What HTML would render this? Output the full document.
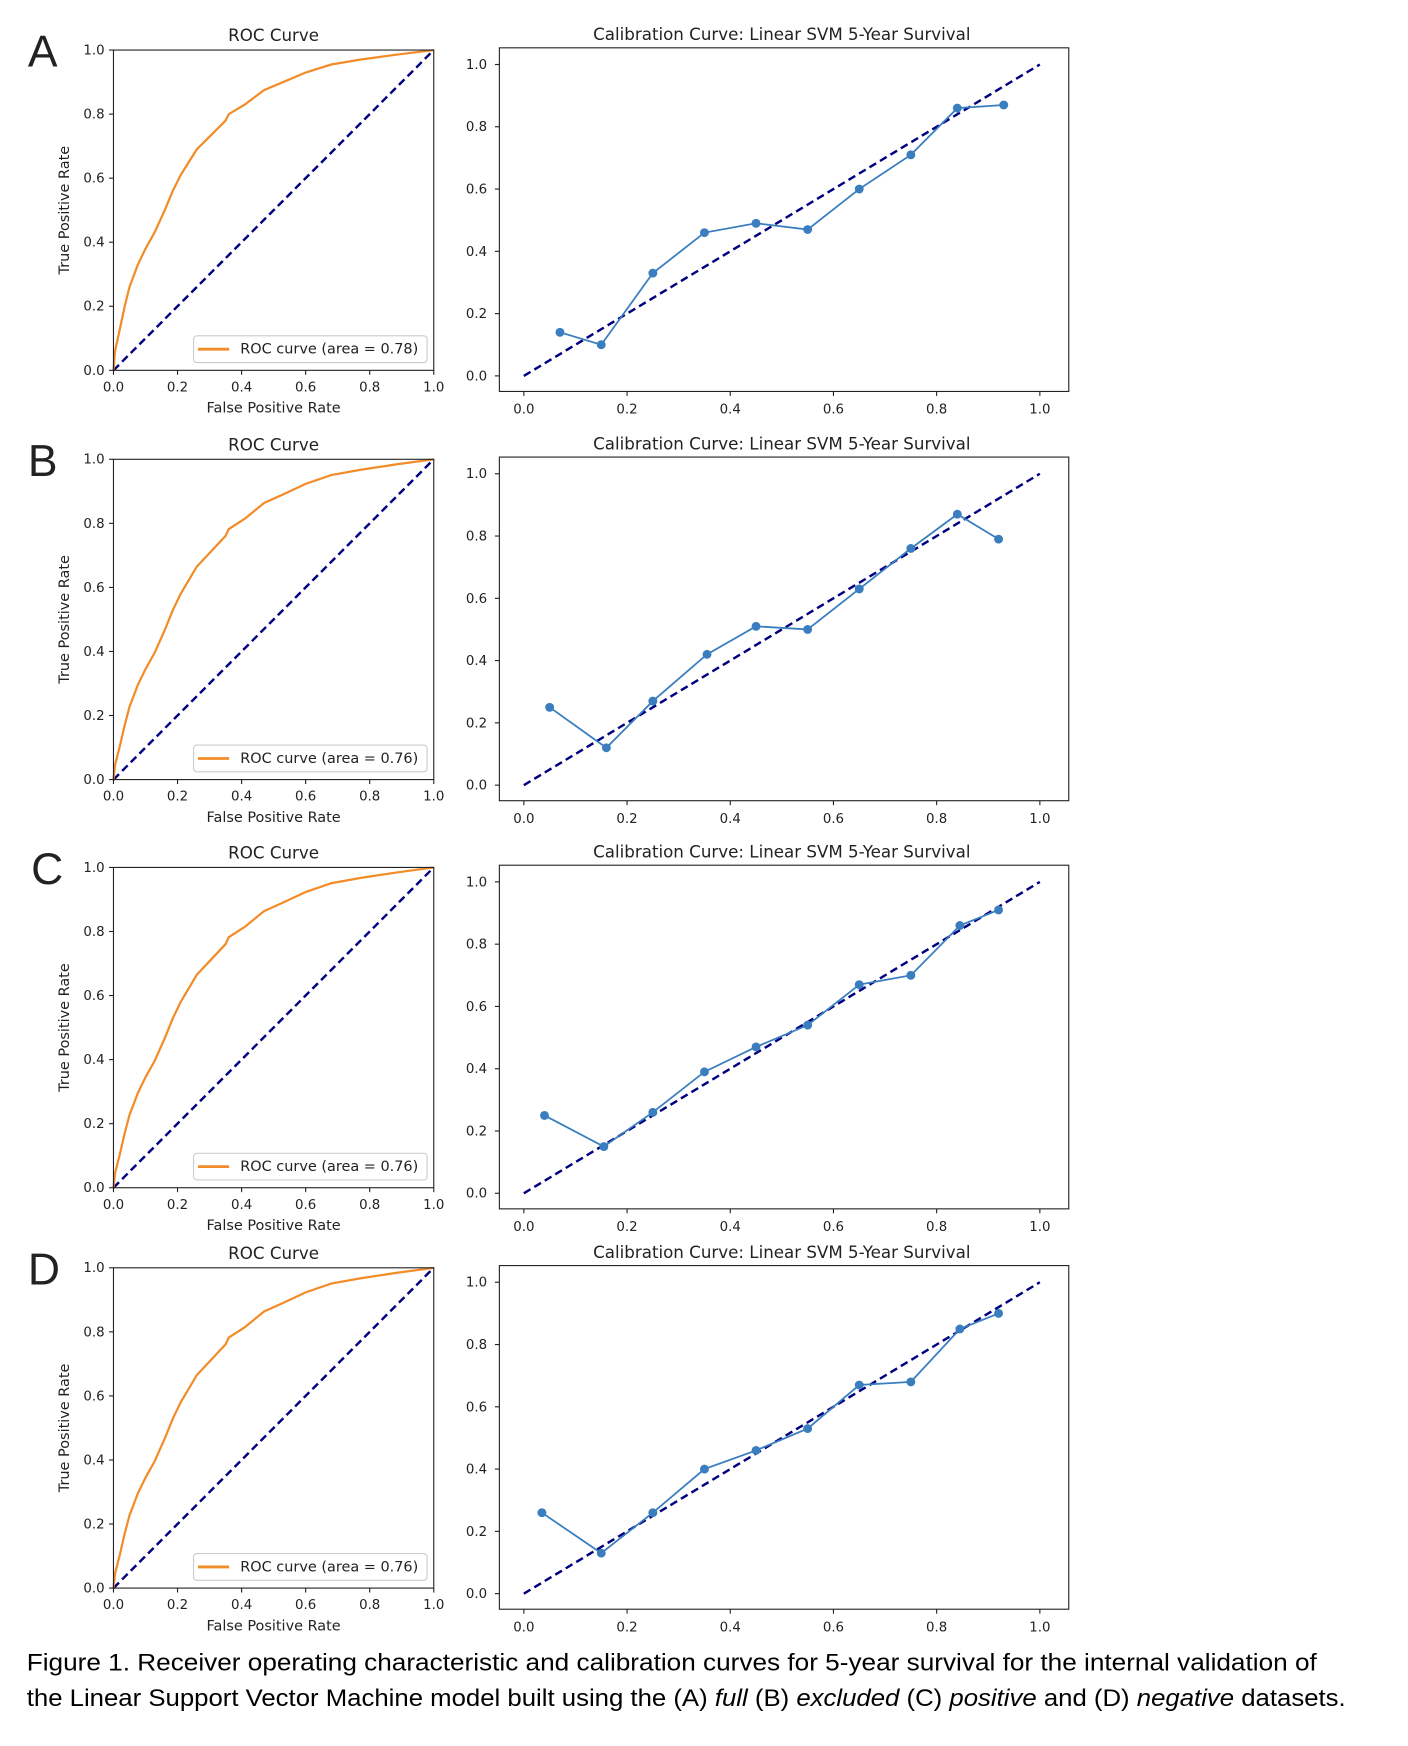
<!DOCTYPE html>
<html><head><meta charset="utf-8"><style>
html,body{margin:0;padding:0;background:#fff;}
svg{display:block;}
text{font-family:"DejaVu Sans","Liberation Sans",sans-serif;fill:#222;}
.cap{font-family:"Liberation Sans",sans-serif;fill:#000;}
</style></head><body>
<svg id="s" width="1408" height="1746" viewBox="0 0 1266 1570" xmlns="http://www.w3.org/2000/svg"></svg>
<script>
var s=document.getElementById('s'),h='';
var rocA=[[0,0],[0.005,0.06],[0.019,0.125],[0.035,0.2],[0.05,0.26],[0.076,0.33],[0.1,0.38],[0.128,0.43],[0.16,0.5],[0.185,0.56],[0.21,0.61],[0.235,0.65],[0.26,0.69],[0.3,0.73],[0.35,0.78],[0.36,0.8],[0.41,0.83],[0.47,0.875],[0.53,0.9],[0.6,0.93],[0.68,0.955],[0.77,0.97],[0.88,0.985],[1,1]];
var cal=[
[[0.07,0.14],[0.15,0.10],[0.25,0.33],[0.35,0.46],[0.45,0.49],[0.55,0.47],[0.65,0.60],[0.75,0.71],[0.84,0.86],[0.93,0.87]],
[[0.05,0.25],[0.16,0.12],[0.25,0.27],[0.355,0.42],[0.45,0.51],[0.55,0.50],[0.65,0.63],[0.75,0.76],[0.84,0.87],[0.92,0.79]],
[[0.04,0.25],[0.155,0.15],[0.25,0.26],[0.35,0.39],[0.45,0.47],[0.55,0.54],[0.65,0.67],[0.75,0.70],[0.845,0.86],[0.92,0.91]],
[[0.035,0.26],[0.15,0.13],[0.25,0.26],[0.35,0.40],[0.45,0.46],[0.55,0.53],[0.65,0.67],[0.75,0.68],[0.845,0.85],[0.92,0.90]]];
var offs=[0,368,735,1095],labs=['A','B','C','D'],areas=['0.78','0.76','0.76','0.76'];
var ticks=['0.0','0.2','0.4','0.6','0.8','1.0'];
for(var p=0;p<4;p++){
 var o=offs[p];
 // ROC
 var L=102,R=390,T=45+o,B=333+o,W=R-L,H=B-T;
 h+='<text x="'+(p==2?28:25)+'" y="'+(60+o)+'" font-size="40" style="font-family:Liberation Sans,sans-serif">'+labs[p]+'</text>';
 h+='<text x="246" y="'+(37+o)+'" font-size="15" text-anchor="middle">ROC Curve</text>';
 var pts=rocA.map(function(q){var y=p==0?q[1]:Math.pow(q[1],1.1);return (L+q[0]*W).toFixed(1)+','+(B-y*H).toFixed(1);}).join(' ');
 h+='<line x1="'+L+'" y1="'+B+'" x2="'+R+'" y2="'+T+'" stroke="#000080" stroke-width="2.2" stroke-dasharray="7,4"/>';
 h+='<polyline points="'+pts+'" fill="none" stroke="#f28c28" stroke-width="2"/>';
 h+='<rect x="'+L+'" y="'+T+'" width="'+W+'" height="'+H+'" fill="none" stroke="#222" stroke-width="1"/>';
 for(var i=0;i<6;i++){
  var x=L+i*W/5,y=B-i*H/5;
  h+='<line x1="'+x+'" y1="'+B+'" x2="'+x+'" y2="'+(B+4)+'" stroke="#222"/>';
  h+='<text x="'+x+'" y="'+(B+19)+'" font-size="12" text-anchor="middle">'+ticks[i]+'</text>';
  h+='<line x1="'+(L-4)+'" y1="'+y+'" x2="'+L+'" y2="'+y+'" stroke="#222"/>';
  h+='<text x="'+(L-8)+'" y="'+(y+4)+'" font-size="12" text-anchor="end">'+ticks[i]+'</text>';
 }
 h+='<text x="246" y="'+(B+38)+'" font-size="13" text-anchor="middle">False Positive Rate</text>';
 h+='<text transform="translate(62,'+(189+o)+') rotate(-90)" font-size="13" text-anchor="middle">True Positive Rate</text>';
 h+='<rect x="174" y="'+(302+o)+'" width="210" height="24" rx="3" fill="#fff" stroke="#ccc"/>';
 h+='<line x1="178" y1="'+(314+o)+'" x2="206" y2="'+(314+o)+'" stroke="#f28c28" stroke-width="2.5"/>';
 h+='<text x="216" y="'+(318+o)+'" font-size="13">ROC curve (area = '+areas[p]+')</text>';
 // Calibration
 var cL=449,cR=961,cT=43+o,cB=352+o,x0=471,x1=935,y0=338+o,y1=58+o;
 h+='<text x="703" y="'+(36+o)+'" font-size="15" text-anchor="middle">Calibration Curve: Linear SVM 5-Year Survival</text>';
 h+='<line x1="'+x0+'" y1="'+y0+'" x2="'+x1+'" y2="'+y1+'" stroke="#000080" stroke-width="2.2" stroke-dasharray="7,4"/>';
 var cp=cal[p].map(function(q){return [x0+q[0]*(x1-x0),y0-q[1]*(y0-y1)];});
 h+='<polyline points="'+cp.map(function(q){return q[0].toFixed(1)+','+q[1].toFixed(1)}).join(' ')+'" fill="none" stroke="#3a7ebf" stroke-width="1.6"/>';
 cp.forEach(function(q){h+='<circle cx="'+q[0]+'" cy="'+q[1]+'" r="4" fill="#3a7ebf"/>';});
 h+='<rect x="'+cL+'" y="'+cT+'" width="'+(cR-cL)+'" height="'+(cB-cT)+'" fill="none" stroke="#222" stroke-width="1"/>';
 for(var i=0;i<6;i++){
  var x=x0+i*(x1-x0)/5,y=y0-i*(y0-y1)/5;
  h+='<line x1="'+x+'" y1="'+cB+'" x2="'+x+'" y2="'+(cB+4)+'" stroke="#222"/>';
  h+='<text x="'+x+'" y="'+(cB+20)+'" font-size="12" text-anchor="middle">'+ticks[i]+'</text>';
  h+='<line x1="'+(cL-4)+'" y1="'+y+'" x2="'+cL+'" y2="'+y+'" stroke="#222"/>';
  h+='<text x="'+(cL-11)+'" y="'+(y+4)+'" font-size="12" text-anchor="end">'+ticks[i]+'</text>';
 }
}
h+='<text class="cap" x="24" y="1502" font-size="21.5" textLength="1160" lengthAdjust="spacingAndGlyphs">Figure 1. Receiver operating characteristic and calibration curves for 5-year survival for the internal validation of</text>';
h+='<text class="cap" x="24" y="1534" font-size="21.5" textLength="1186" lengthAdjust="spacingAndGlyphs">the Linear Support Vector Machine model built using the (A) <tspan font-style="italic">full</tspan> (B) <tspan font-style="italic">excluded</tspan> (C) <tspan font-style="italic">positive</tspan> and (D) <tspan font-style="italic">negative</tspan> datasets.</text>';
s.innerHTML=h;
</script>
</body></html>
